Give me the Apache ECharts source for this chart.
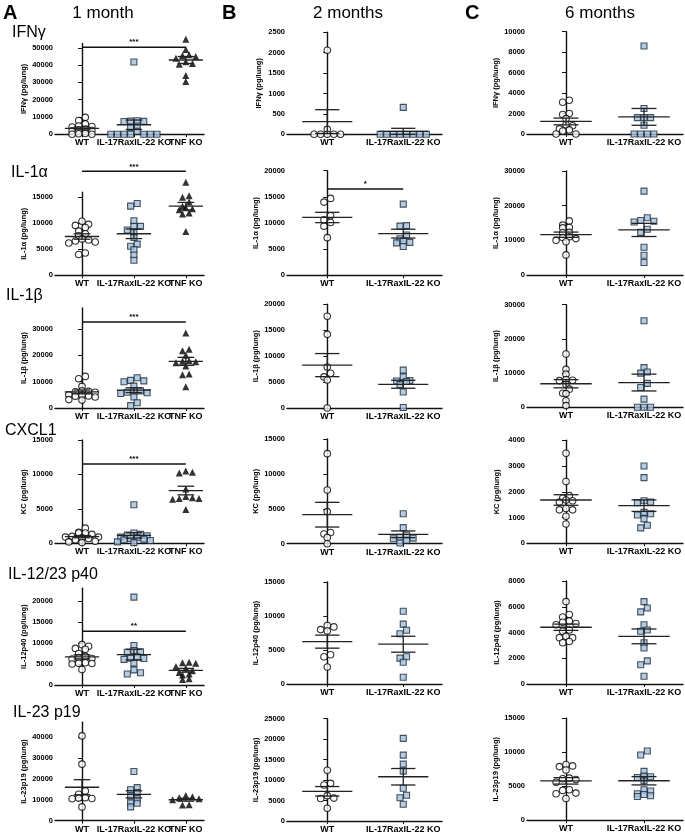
<!DOCTYPE html>
<html><head><meta charset="utf-8">
<script src="https://cdn.jsdelivr.net/npm/echarts@6/dist/echarts.min.js"></script>
<style>html,body{margin:0;padding:0;background:#fff}#c{width:685px;height:833px}</style>
</head><body><div id="c"></div>
<script>
// ---------- DATA ----------
const panelLetters = ['A', 'B', 'C'];
const columnTitles = ['1 month', '2 months', '6 months'];
const rowTitles = ['IFNγ', 'IL-1α', 'IL-1β', 'CXCL1', 'IL-12/23 p40', 'IL-23 p19'];
const yNames = ['IFNγ (pg/lung)', 'IL-1α (pg/lung)', 'IL-1β (pg/lung)', 'KC (pg/lung)', 'IL-12p40 (pg/lung)', 'IL-23p19 (pg/lung)'];
const groupsA = ['WT', 'IL-17RaxIL-22 KO', 'TNF KO'];
const groupsBC = ['WT', 'IL-17RaxIL-22 KO'];

// Column A: 1 month
const a1_wt = [9800, 8000, 6000, 4800, 4500, 4200, 3000, 2500, 2200, 2000, 500, 300, 0, 0];
const a1_ko = [41800, 7800, 7600, 7500, 7400, 4800, 4000, 1800, 0, 0, 0, 0, 0, 0, 0];
const a1_tnf = [55000, 49000, 46000, 45500, 45000, 44000, 42000, 41000, 40500, 34000, 30500];
const a2_wt = [10400, 9800, 9600, 9200, 8500, 8000, 7600, 6800, 7000, 6600, 6400, 6200, 4300, 4000];
const a2_ko = [13800, 13300, 10500, 9400, 9400, 8700, 8200, 7300, 6000, 5600, 4900, 3900, 2900];
const a2_tnf = [17900, 15300, 15000, 14100, 13300, 13000, 12800, 12600, 12000, 11800, 8400];
const a3_wt = [12000, 11100, 8200, 6300, 6200, 6000, 5000, 4800, 4600, 4200, 3200, 3000, 4500, 6500];
const a3_ko = [11500, 10500, 10300, 10000, 8300, 6500, 6000, 5800, 6500, 5500, 4200, 2000, 900];
const a3_tnf = [28500, 22300, 21800, 20000, 18000, 17800, 17600, 17200, 16000, 12900, 12600, 8100];
const a4_wt = [2200, 1600, 1500, 1500, 1300, 1000, 900, 900, 800, 700, 500, 300, 200, 100];
const a4_ko = [5600, 1500, 1300, 1200, 1100, 900, 800, 700, 600, 500, 400, 200, 100];
const a4_tnf = [10500, 10300, 10200, 7900, 6800, 6600, 6500, 6500, 6400, 4900];
const a5_wt = [9600, 9200, 8500, 7500, 8700, 6800, 6500, 6300, 6200, 5300, 5200, 5100, 5000, 3700];
const a5_ko = [20900, 9400, 8200, 7900, 7800, 6700, 6400, 6300, 6100, 5200, 3600, 2900, 2600];
const a5_tnf = [5400, 5300, 5200, 4400, 4000, 3400, 3000, 2600, 2400, 1500, 1300];
const a6_wt = [40500, 27000, 14200, 12600, 11000, 10800, 10600, 10500, 6600];
const a6_ko = [23500, 15800, 14800, 13500, 11800, 10500, 8500, 8300, 6600];
const a6_tnf = [12000, 11400, 11000, 10500, 10000, 7600, 7500];

// Column B: 2 months
const b1_wt = [2060, 120, 0, 0, 0, 0, 0];
const b1_ko = [660, 0, 0, 0, 0, 0, 0, 0, 0];
const b2_wt = [14700, 14000, 11400, 10600, 10100, 9400, 7200];
const b2_ko = [13600, 9500, 9400, 7700, 7000, 6500, 6300, 6200, 5500];
const b3_wt = [17700, 14200, 7900, 6700, 6000, 5400, 0];
const b3_ko = [7300, 6000, 5300, 5200, 5100, 4500, 3100, 100];
const b4_wt = [12900, 7700, 4600, 1600, 1400, 900, 0];
const b4_ko = [4300, 2300, 1200, 900, 800, 700, 500, 100];
const b5_wt = [8600, 8400, 8000, 7800, 4300, 4000, 2500];
const b5_ko = [10700, 8800, 7900, 7400, 4000, 3800, 3200, 1000];
const b6_wt = [12400, 9200, 8800, 6200, 5600, 5500, 3100];
const b6_ko = [20200, 16100, 13900, 12200, 8000, 6300, 5700, 4100];

// Column C: 6 months
const c1_wt = [3300, 3100, 2000, 1900, 1500, 900, 800, 500, 400, 300, 0, 0];
const c1_ko = [8600, 2500, 1600, 1600, 1600, 850, 0, 0, 0, 0];
const c2_wt = [15600, 14400, 13700, 13600, 12300, 12200, 11000, 10800, 10500, 10000, 9600, 5800];
const c2_ko = [24200, 16500, 15700, 15500, 15300, 13200, 12300, 8000, 5700, 3600];
const c3_wt = [15600, 11100, 9700, 8100, 7900, 7800, 6700, 5300, 4100, 4000, 1900, 500];
const c3_ko = [25300, 11600, 10300, 10000, 7000, 5800, 2400, 0, 0, 0];
const c4_wt = [3500, 2400, 1850, 1750, 1680, 1650, 1600, 1350, 1300, 1300, 1050, 750];
const c4_ko = [3000, 2550, 1650, 1600, 1580, 1200, 1150, 1100, 950, 700, 600];
const c5_wt = [6400, 5400, 5200, 4900, 4800, 4700, 4600, 4200, 4100, 3700, 3600, 3600, 3300, 3200];
const c5_ko = [6400, 5900, 5600, 4600, 4200, 4100, 3200, 2800, 1800, 1500, 600];
const c6_wt = [8200, 8000, 7900, 7400, 6200, 6100, 6000, 5600, 4500, 4400, 4000, 3900, 3200];
const c6_ko = [10200, 9600, 7200, 6500, 6400, 6300, 5800, 4500, 4300, 3900, 3800, 3600, 3500];

// y axis ranges and tick steps
const yMaxA = [52500, 16000, 38000, 15000, 23000, 47000];
const yStepA = [10000, 5000, 10000, 5000, 5000, 10000];
const yMaxB = [2500, 20000, 20000, 15000, 15000, 25000];
const yStepB = [500, 5000, 5000, 5000, 5000, 5000];
const yMaxC = [10000, 30000, 30000, 4000, 8000, 15000];
const yStepC = [2000, 10000, 10000, 1000, 2000, 5000];

// significance bars: [fromGroup, toGroup, value, stars]
const sigA = [[0, 2, 50400, '***'], [0, 2, 20000, '***'], [0, 2, 32700, '***'], [0, 2, 11500, '***'], [0, 2, 12800, '**'], null];
const sigB = [null, [0, 1, 16500, '*'], null, null, null, null];
const sigC = [null, null, null, null, null, null];

const dataA = [[a1_wt, a1_ko, a1_tnf], [a2_wt, a2_ko, a2_tnf], [a3_wt, a3_ko, a3_tnf], [a4_wt, a4_ko, a4_tnf], [a5_wt, a5_ko, a5_tnf], [a6_wt, a6_ko, a6_tnf]];
const dataB = [[b1_wt, b1_ko], [b2_wt, b2_ko], [b3_wt, b3_ko], [b4_wt, b4_ko], [b5_wt, b5_ko], [b6_wt, b6_ko]];
const dataC = [[c1_wt, c1_ko], [c2_wt, c2_ko], [c3_wt, c3_ko], [c4_wt, c4_ko], [c5_wt, c5_ko], [c6_wt, c6_ko]];

// ---------- LAYOUT ----------
const FONT = '"Liberation Sans", Arial, Helvetica, sans-serif';
const columns = [
  { groups: groupsA, data: dataA, yMax: yMaxA, yStep: yStepA, sig: sigA },
  { groups: groupsBC, data: dataB, yMax: yMaxB, yStep: yStepB, sig: sigB },
  { groups: groupsBC, data: dataC, yMax: yMaxC, yStep: yStepC, sig: sigC }
];
const colLayout = [
  { left: 55, width: 149, xmin: -0.52, xmax: 2.35, nameGap: 26 },
  { left: 287, width: 155, xmin: -0.53, xmax: 1.51, nameGap: 24 },
  { left: 527, width: 156, xmin: -0.5, xmax: 1.5, nameGap: 26 }
];
const rowTops = [
  [43.5, 192.1, 308, 440, 588.3, 722.3],
  [32.3, 170.7, 304.3, 439, 582, 718.7],
  [31.7, 171, 304.7, 440.3, 581, 718.3]
];
const rowBottoms = [
  [134.3, 275.3, 408, 543.3, 685, 820.7],
  [134.3, 275.3, 408, 543.7, 684, 821],
  [134, 275, 407.3, 543.3, 684, 820.3]
];
const symbolStyles = [
  { symbol: 'circle', symbolSize: 6.5, itemStyle: { color: '#ffffff', borderColor: '#000', borderWidth: 1.1 } },
  { symbol: 'rect', symbolSize: 6, itemStyle: { color: '#a3bfdc', borderColor: '#1d2b3a', borderWidth: 1.1 } },
  { symbol: 'triangle', symbolSize: 7, itemStyle: { color: '#000' } }
];

// GraphPad-like scatter layout: bin into rows, spread each row centred (alternating outward)
function swarm(values, g, pxPerX, pxPerY, d) {
  const sorted = values.slice().sort((a, b) => b - a);
  const rows = [];
  const binH = d * 0.65;
  sorted.forEach(v => {
    const yPx = v * pxPerY;
    const last = rows[rows.length - 1];
    if (last && last.start - yPx < binH) last.vals.push(v);
    else rows.push({ start: yPx, vals: [v] });
  });
  const out = [];
  rows.forEach(row => {
    const n = row.vals.length;
    const slots = [];
    for (let i = 0; i < n; i++) slots.push(i - (n - 1) / 2);
    slots.sort((a, b) => Math.abs(a) - Math.abs(b) || b - a);
    row.vals.forEach((v, i) => {
      const xPx = slots[i] * d;
      out.push([g + xPx / pxPerX, v]);
    });
  });
  return out;
}
function stats(values) {
  const n = values.length;
  const m = values.reduce((s, v) => s + v, 0) / n;
  const sd = Math.sqrt(values.reduce((s, v) => s + (v - m) ** 2, 0) / (n - 1));
  return [m, sd / Math.sqrt(n)];
}

const grids = [], xAxes = [], yAxes = [], series = [];
const xLabelStyle = { fontSize: 9, fontWeight: 'bold', color: '#000', fontFamily: FONT, margin: 4 };
let idx = 0;
columns.forEach((col, ci) => {
  const L = colLayout[ci];
  for (let r = 0; r < 6; r++) {
    const top = rowTops[ci][r], h = rowBottoms[ci][r] - top;
    const ymax = col.yMax[r], step = col.yStep[r];
    const ticks = [];
    for (let v = 0; v <= ymax + 1e-6; v += step) ticks.push(v);
    const cats = col.groups.map((_, i) => i);
    // outer categories on the main axis, inner ones on an overlay axis so overlapping labels all show
    const outer = cats.length > 2 ? [0, cats.length - 1] : cats;
    const inner = cats.filter(c => outer.indexOf(c) < 0);
    grids.push({ left: L.left, top: top, width: L.width, height: h, containLabel: false, outerBoundsMode: 'none' });
    const xi = xAxes.length;
    xAxes.push({
      type: 'value', gridIndex: idx, min: L.xmin, max: L.xmax, position: 'bottom',
      axisLine: { show: true, onZero: false, lineStyle: { color: '#111', width: 1.4 } },
      axisTick: { show: true, customValues: cats, length: 3, lineStyle: { color: '#111', width: 1 } },
      axisLabel: Object.assign({ customValues: outer, showMinLabel: true, showMaxLabel: true, hideOverlap: false,
        formatter: v => col.groups[Math.round(v)] || '' }, xLabelStyle),
      splitLine: { show: false }
    });
    if (inner.length) {
      xAxes.push({
        type: 'value', gridIndex: idx, min: L.xmin, max: L.xmax, position: 'bottom', offset: 0,
        axisLine: { show: false, onZero: false }, axisTick: { show: false },
        axisLabel: Object.assign({ customValues: inner, showMinLabel: true, showMaxLabel: true,
          formatter: v => col.groups[Math.round(v)] || '' }, xLabelStyle),
        splitLine: { show: false }
      });
    }
    yAxes.push({
      type: 'value', gridIndex: idx, min: 0, max: ymax,
      name: yNames[r], nameLocation: 'middle', nameGap: L.nameGap,
      nameTextStyle: { fontSize: 7.5, fontWeight: 'bold', color: '#000', fontFamily: FONT },
      axisLine: { show: true, lineStyle: { color: '#111', width: 1.4 } },
      axisTick: { show: true, customValues: ticks, length: 4, lineStyle: { color: '#111', width: 1 } },
      axisLabel: { customValues: ticks, showMinLabel: true, showMaxLabel: true, formatter: v => String(Math.round(v)),
        fontSize: 7.5, fontWeight: 'bold', color: '#000', fontFamily: FONT, margin: 2 },
      splitLine: { show: false }
    });
    const pxPerX = L.width / (L.xmax - L.xmin);
    const pxPerY = h / ymax;
    const st = [];
    col.data[r].forEach((vals, g) => {
      const s = symbolStyles[g];
      series.push({
        type: 'scatter', xAxisIndex: xi, yAxisIndex: idx, clip: false, silent: true, z: 2,
        symbol: s.symbol, symbolSize: s.symbolSize, itemStyle: s.itemStyle,
        data: swarm(vals, g, pxPerX, pxPerY, 6.6)
      });
      const ms = stats(vals);
      st.push([g, ms[0], ms[1]]);
    });
    series.push({
      type: 'custom', xAxisIndex: xi, yAxisIndex: idx, clip: false, silent: true, z: 3,
      encode: { x: 0, y: 1 },
      data: st,
      renderItem: (params, api) => {
        const g = api.value(0), m = api.value(1), s = api.value(2);
        const c = api.coord([g, m]);
        const unit = api.size([1, 0])[0];
        const hw = 0.33 * unit, cw = 0.16 * unit;
        const yt = api.coord([g, m + s])[1], yb = api.coord([g, Math.max(0, m - s)])[1];
        const style = { stroke: '#222', lineWidth: 1.3 };
        return { type: 'group', children: [
          { type: 'line', shape: { x1: c[0] - hw, y1: c[1], x2: c[0] + hw, y2: c[1] }, style: style },
          { type: 'line', shape: { x1: c[0], y1: yt, x2: c[0], y2: yb }, style: style },
          { type: 'line', shape: { x1: c[0] - cw, y1: yt, x2: c[0] + cw, y2: yt }, style: style },
          { type: 'line', shape: { x1: c[0] - cw, y1: yb, x2: c[0] + cw, y2: yb }, style: style }
        ] };
      }
    });
    const sg = col.sig[r];
    if (sg) {
      series.push({
        type: 'custom', xAxisIndex: xi, yAxisIndex: idx, clip: false, silent: true, z: 3,
        encode: { x: [0, 1], y: 2 },
        data: [[sg[0], sg[1], sg[2]]],
        renderItem: (params, api) => {
          const p0 = api.coord([api.value(0), api.value(2)]);
          const p1 = api.coord([api.value(1), api.value(2)]);
          return { type: 'group', children: [
            { type: 'line', shape: { x1: p0[0], y1: p0[1], x2: p1[0], y2: p1[1] }, style: { stroke: '#111', lineWidth: 1.5 } },
            { type: 'text', x: (p0[0] + p1[0]) / 2, y: p0[1] - 1, style: { text: sg[3], fontSize: 8, fontWeight: 'bold', fontFamily: FONT, fill: '#000', align: 'center', verticalAlign: 'bottom' } }
          ] };
        }
      });
    }
    idx++;
  }
});

const rowTitlePos = [[12, 33], [11, 173], [6, 296], [5, 431], [8, 575], [13, 713]];
const letterPos = [[3, 13], [222, 13], [465, 13]];
const colTitlePos = [[103, 13], [348, 13], [600, 13]];
const graphics = [];
panelLetters.forEach((t, i) => graphics.push({ type: 'text', x: letterPos[i][0], y: letterPos[i][1], style: { text: t, fontSize: 20, fontWeight: 'bold', fontFamily: FONT, fill: '#000', align: 'left', verticalAlign: 'middle' } }));
columnTitles.forEach((t, i) => graphics.push({ type: 'text', x: colTitlePos[i][0], y: colTitlePos[i][1], style: { text: t, fontSize: 17, fontFamily: FONT, fill: '#000', align: 'center', verticalAlign: 'middle' } }));
rowTitles.forEach((t, i) => graphics.push({ type: 'text', x: rowTitlePos[i][0], y: rowTitlePos[i][1], style: { text: t, fontSize: 16, fontFamily: FONT, fill: '#000', align: 'left', verticalAlign: 'middle' } }));

const chart = echarts.init(document.getElementById('c'), null, { renderer: 'canvas' });
chart.setOption({
  backgroundColor: '#ffffff',
  animation: false,
  textStyle: { fontFamily: FONT },
  grid: grids, xAxis: xAxes, yAxis: yAxes, series: series,
  graphic: graphics
});
</script></body></html>
